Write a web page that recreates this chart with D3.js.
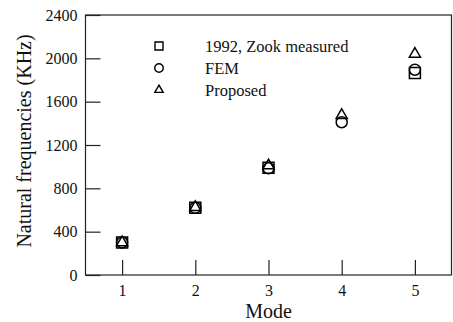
<!DOCTYPE html>
<html>
<head>
<meta charset="utf-8">
<script src="https://cdn.jsdelivr.net/npm/d3@7/dist/d3.min.js"></script>
<style>
  html, body { margin: 0; padding: 0; background: #fff; }
  svg text { font-family: "Liberation Serif", "Times New Roman", Times, serif; }
</style>
</head>
<body>
<svg id="chart" width="453" height="322"></svg>
<script>
// Natural frequencies per vibration mode
const modes = [1, 2, 3, 4, 5];
const zookMeasured = [300, 620, 990, null, 1865];
const fem = [300, 620, 985, 1410, 1895];
const proposed = [300, 625, 1010, 1475, 2040];
const yTicks = [0, 400, 800, 1200, 1600, 2000, 2400];

const seriesNames = ["1992, Zook measured", "FEM", "Proposed"];
const seriesValues = [zookMeasured, fem, proposed];
const seriesShapes = [d3.symbolSquare, d3.symbolCircle, d3.symbolTriangle];
const plotSizes = [121, 95, 54];
const legendSizes = [64, 57, 30];

const svg = d3.select("#chart");
const margin = { left: 85.5, right: 1.5, top: 15, bottom: 47 };
const W = 453, H = 322;

const x = d3.scaleLinear().domain([0.5, 5.5]).range([margin.left, W - margin.right]);
const y = d3.scaleLinear().domain([0, 2400]).range([H - margin.bottom, margin.top]);

const ink = "#222";

// frame
svg.append("rect")
  .attr("x", x(0.5)).attr("y", y(2400))
  .attr("width", x(5.5) - x(0.5)).attr("height", y(0) - y(2400))
  .attr("fill", "none").attr("stroke", ink).attr("stroke-width", 1.2);

// left axis with inward ticks
const yAxis = svg.append("g")
  .attr("transform", `translate(${x(0.5)},0)`)
  .call(d3.axisLeft(y).tickValues(yTicks).tickFormat(d3.format("d"))
    .tickSizeInner(-15).tickSizeOuter(0));
yAxis.attr("font-family", null).attr("font-size", null);
yAxis.select(".domain").remove();
yAxis.selectAll(".tick line").attr("stroke", ink).attr("stroke-width", 1.2);
yAxis.selectAll(".tick text")
  .attr("x", -8)
  .style("font-size", "16px").attr("fill", "#111");

// bottom axis with inward ticks
const xAxis = svg.append("g")
  .attr("transform", `translate(0,${y(0)})`)
  .call(d3.axisBottom(x).tickValues(modes).tickFormat(d3.format("d"))
    .tickSizeInner(-15).tickSizeOuter(0));
xAxis.attr("font-family", null).attr("font-size", null);
xAxis.select(".domain").remove();
xAxis.selectAll(".tick line").attr("stroke", ink).attr("stroke-width", 1.2);
xAxis.selectAll(".tick text")
  .attr("y", 10)
  .style("font-size", "16px").attr("fill", "#111");

// axis titles
svg.append("text")
  .attr("x", (x(0.5) + x(5.5)) / 2).attr("y", 318)
  .attr("text-anchor", "middle")
  .style("font-size", "20px").attr("fill", "#111")
  .text("Mode");

svg.append("text")
  .attr("transform", `translate(31,141) rotate(-90)`)
  .attr("text-anchor", "middle")
  .style("font-size", "20px").attr("fill", "#111")
  .text("Natural frequencies (KHz)");

// markers
seriesValues.forEach((vals, i) => {
  const sym = d3.symbol().type(seriesShapes[i]).size(plotSizes[i]);
  svg.append("g").selectAll("path")
    .data(modes.map((m, j) => ({ m, v: vals[j] })).filter(d => d.v != null))
    .join("path")
    .attr("d", sym)
    .attr("transform", d => `translate(${x(d.m)},${y(d.v)})`)
    .attr("fill", "none").attr("stroke", "#000").attr("stroke-width", 1.5);
});

// legend
const legendRows = [46, 68, 90];
seriesNames.forEach((name, i) => {
  const sym = d3.symbol().type(seriesShapes[i]).size(legendSizes[i]);
  svg.append("path")
    .attr("d", sym)
    .attr("transform", `translate(159,${legendRows[i]})`)
    .attr("fill", "none").attr("stroke", "#000").attr("stroke-width", 1.4);
  svg.append("text")
    .attr("x", 205).attr("y", legendRows[i] + 5.5)
    .style("font-size", "16.5px").attr("fill", "#111")
    .text(name);
});
</script>
</body>
</html>
